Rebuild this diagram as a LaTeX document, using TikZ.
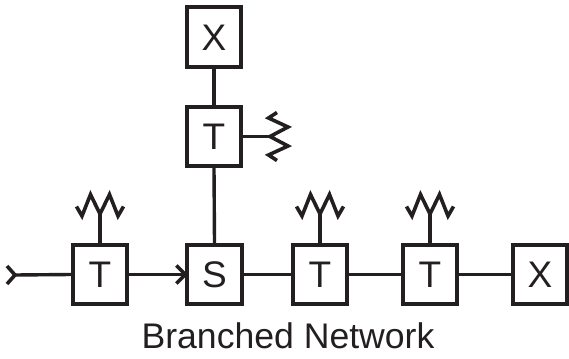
\documentclass[tikz,border=0pt]{standalone}
\usepackage{fontspec}
\setmainfont{Liberation Sans}
\definecolor{ink}{HTML}{231F20}
\tikzset{
  unitbox/.style={draw=ink,line width=4pt,minimum width=54.4pt,minimum height=59.4pt,inner sep=0pt,text=ink,font=\fontsize{37}{37}\selectfont,text height=26.5pt,text depth=0pt},
  wire/.style={draw=ink,line width=3.4pt},
  zig/.style={draw=ink,line width=3.6pt,miter limit=10},
  caption/.style={text=ink,font=\fontsize{35.6}{36}\selectfont,inner sep=0pt,anchor=base}
}
\begin{document}
\begin{tikzpicture}[x=1pt,y=-1pt]
\useasboundingbox (0,0) rectangle (569,358);
\node[unitbox] (t1) at (100,274.5) {T};
\node[unitbox] (s) at (214.5,274.5) {S};
\node[unitbox] (t3) at (320,274.5) {T};
\node[unitbox] (t4) at (430,274.5) {T};
\node[unitbox] (x1) at (540,274.5) {X};
\node[unitbox] (t2) at (214,136.5) {T};
\node[unitbox] (x2) at (214,37) {X};
\node[caption] (cap) at (288,348) {Branched Network};
\coordinate (in) at (15,275);
\coordinate (a1) at (100,213);
\coordinate (a3) at (320,213);
\coordinate (a4) at (430,213);
\coordinate (a2) at (270,136.5);
% connectors
\draw[wire] (in) -- (t1.west);
\draw[wire] (t1.east) -- (s.west);
\draw[wire] (s.east) -- (t3.west);
\draw[wire] (t3.east) -- (t4.west);
\draw[wire] (t4.east) -- (x1.west);
\draw[wire] (s.north) -- (t2.south);
\draw[wire] (t2.north) -- (x2.south);
\draw[wire] (t1.north) -- (a1);
\draw[wire] (t3.north) -- (a3);
\draw[wire] (t4.north) -- (a4);
\draw[wire] (t2.east) -- (a2);
% chevrons
\draw[zig] ([shift={(-8,-9)}]in) -- (in) -- ([shift={(-8,9)}]in);
\draw[zig] ([shift={(-9,-9)}]s.west) -- (s.west) -- ([shift={(-9,9)}]s.west);
% antennas
\foreach \a in {a1,a3,a4}{
  \draw[zig] ([shift={(-23.5,-6.5)}]\a) -- ([shift={(-18,3)}]\a) -- ([shift={(-9.5,-18.5)}]\a) -- ([shift={(0,1)}]\a) -- ([shift={(9.5,-18.5)}]\a) -- ([shift={(18,3)}]\a) -- ([shift={(23.5,-6.5)}]\a);
}
\draw[zig] ([shift={(7,-24)}]a2) -- ([shift={(-1.5,-18.5)}]a2) -- ([shift={(18,-9.5)}]a2) -- ([shift={(0,0)}]a2) -- ([shift={(18,9.5)}]a2) -- ([shift={(-1.5,18.5)}]a2) -- ([shift={(7,24)}]a2);
\end{tikzpicture}
\end{document}
